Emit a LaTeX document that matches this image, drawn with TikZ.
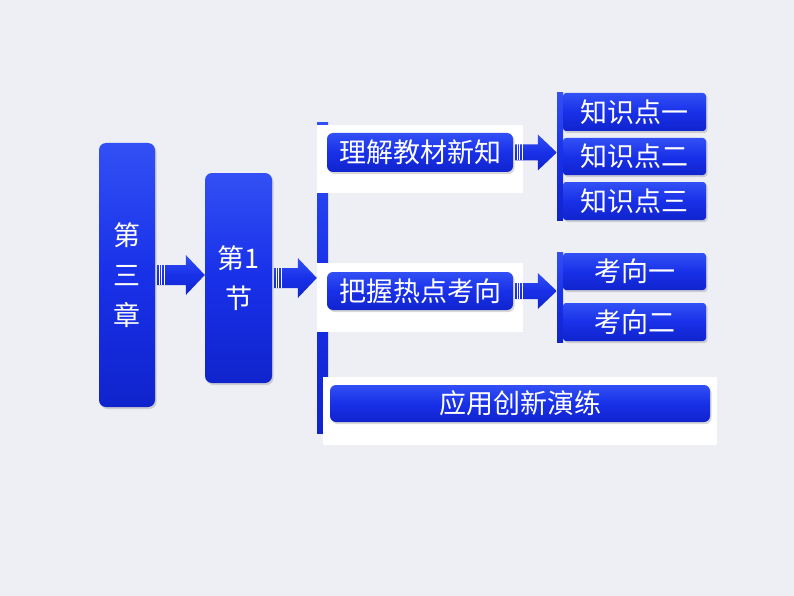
\documentclass[tikz,border=0pt]{standalone}
\usepackage{fontspec}
\newfontfamily\cjk{Noto Sans CJK SC}
\usetikzlibrary{shadows,calc}
\definecolor{bg}{RGB}{238,239,244}
\definecolor{btop}{RGB}{50,80,245}
\definecolor{bmid}{RGB}{24,48,232}
\definecolor{bbot}{RGB}{16,36,205}
\tikzset{
  mainbox/.style={rectangle, rounded corners=7pt, top color=btop, bottom color=bbot, middle color=bmid,
    drop shadow={opacity=0.3,shadow xshift=1.5pt,shadow yshift=-2pt},
    text=white, font=\cjk\fontsize{27}{40}\selectfont, align=center, inner sep=0pt},
  sidebox/.style={mainbox, rounded corners=3pt, minimum width=143pt},
  panel/.style={rectangle, fill=white, inner sep=0pt},
  barbox/.style={rectangle, inner sep=0pt, top color=btop, bottom color=bbot, middle color=bmid},
}
\newcommand\blockarrow[4]{%
  \path[top color=btop, bottom color=bbot, middle color=bmid] let \p1=(#1), \p2=(#2) in
    (\x1+2pt,\y1+#3) -- (\x2-19pt,\y1+#3) -- (\x2-19pt,\y1+#4) -- (\x2,\y1)
    -- (\x2-19pt,\y1-#4) -- (\x2-19pt,\y1-#3) -- (\x1+2pt,\y1-#3) -- cycle;
  \draw[white, line width=0.8pt] let \p1=(#1) in
    (\x1+4pt,\y1+#3) -- (\x1+4pt,\y1-#3)
    (\x1+6.5pt,\y1+#3) -- (\x1+6.5pt,\y1-#3)
    (\x1+9pt,\y1+#3) -- (\x1+9pt,\y1-#3);
}
\begin{document}
\begin{tikzpicture}[x=1pt,y=-1pt]
\fill[bg] (0,0) rectangle (794,596);
\useasboundingbox (0,0) rectangle (794,596);

% left column
\node[mainbox, minimum width=56pt, minimum height=264pt] (c3) at (127,275) {第\\三\\章};
\node[mainbox, minimum width=67pt, minimum height=210pt] (s1) at (238.5,278) {第1\\节};

% vertical bar and white panels
\node[barbox, minimum width=11pt, minimum height=310pt] (vbar) at (322.5,278) {};
\node[panel, minimum width=206pt, minimum height=68pt] (pn1) at (420,159) {};
\node[panel, minimum width=206pt, minimum height=69pt] (pn2) at (420,297.5) {};
\node[panel, minimum width=394pt, minimum height=68pt] (pn3) at (520,411) {};

\node[mainbox, rounded corners=6pt, minimum width=186pt, minimum height=39pt] (b1) at (420,152.5) {理解教材新知};
\node[mainbox, rounded corners=6pt, minimum width=186pt, minimum height=38pt] (b2) at (420,291) {把握热点考向};
\node[mainbox, rounded corners=6pt, minimum width=380pt, minimum height=37pt] (b3) at (520,403.5) {应用创新演练};

% right groups
\node[barbox, minimum width=6pt, minimum height=127pt] (kbar1) at (560,156.5) {};
\node[sidebox, minimum height=38pt] (k1) at (634.5,112) {知识点一};
\node[sidebox, minimum height=37pt] (k2) at (634.5,156.5) {知识点二};
\node[sidebox, minimum height=38pt] (k3) at (634.5,201) {知识点三};

\node[barbox, minimum width=6pt, minimum height=90pt] (kbar2) at (560,297) {};
\node[sidebox, minimum height=37pt] (q1) at (634.5,271.5) {考向一};
\node[sidebox, minimum height=38pt] (q2) at (634.5,322) {考向二};

% arrows
\blockarrow{c3.east}{s1.west}{10pt}{20pt}
\blockarrow{s1.east}{vbar.west}{10pt}{20pt}
\blockarrow{b1.east}{kbar1.west}{8pt}{18pt}
\blockarrow{b2.east}{kbar2.west}{8pt}{18pt}
\end{tikzpicture}
\end{document}
